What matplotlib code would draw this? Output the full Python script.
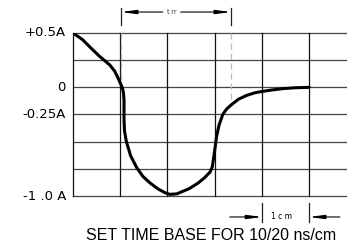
import matplotlib
matplotlib.use('Agg')
import matplotlib.pyplot as plt

# recovery current waveform, x in divisions (cm), y in amps
t_div = [0.0, 0.2, 0.36, 0.55, 0.7, 0.78, 0.88, 0.96, 1.01, 1.05, 1.07, 1.08,
         1.08, 1.09, 1.13, 1.22, 1.35, 1.48, 1.63, 1.8, 1.95, 2.05, 2.2,
         2.47, 2.65, 2.79, 2.9, 2.95, 2.99, 3.04, 3.09, 3.17, 3.25, 3.34,
         3.5, 3.67, 3.85, 4.0, 4.2, 4.44, 4.7, 5.0]
i_amp = [0.5, 0.44, 0.37, 0.29, 0.235, 0.205, 0.15, 0.08, 0.03, -0.01, -0.06, -0.12,
         -0.3, -0.4, -0.5, -0.63, -0.74, -0.82, -0.88, -0.935, -0.97, -0.985, -0.98,
         -0.93, -0.88, -0.83, -0.78, -0.73, -0.61, -0.45, -0.35, -0.25, -0.2, -0.165,
         -0.11, -0.075, -0.05, -0.038, -0.025, -0.012, -0.004, 0.0]

y_ticks = [0.5, 0.0, -0.25, -1.0]
y_labels = ['+0.5A', '0', '-0.25A', '-1 .0 A']
trr_marks = [1.02, 3.34]
cm_marks = [4.0, 5.0]

W, H = 347, 247
fig = plt.figure(figsize=(W / 100, H / 100), dpi=100)
ax = fig.add_axes([73 / W, 1 - 196 / H, 274 / W, 163 / H])
ax.set_xlim(0, 5.8)
ax.set_ylim(-1.0, 0.5)
ax.axis('off')

# grid
for k in range(7):
    ax.axhline(0.5 - 0.25 * k, color='#444444', lw=0.9, zorder=1, clip_on=False)
for k in range(6):
    ax.axvline(k, color='#111111', lw=0.9, zorder=1, clip_on=False)

# waveform
ax.plot(t_div, i_amp, color='black', lw=2.2, solid_capstyle='round', zorder=4)

# y labels
for v, lab in zip(y_ticks, y_labels):
    ax.text(-0.15, v, lab, ha='right', va='center', fontsize=9.5, clip_on=False)

# trr markers
ax.plot([trr_marks[0]] * 2, [0.5, 0.0], color='#bbbbbb', lw=0.9, ls=(0, (5, 3)), zorder=2)
ax.plot([trr_marks[1]] * 2, [0.5, -0.17], color='#bbbbbb', lw=0.9, ls=(0, (5, 3)), zorder=2)
for xm in trr_marks:
    ax.plot([xm, xm], [0.73, 0.575], color='#222222', lw=0.9, clip_on=False)
arr = dict(arrowstyle='-|>,head_length=0.9,head_width=0.12', color='black', lw=0.8,
           shrinkA=0, shrinkB=0)
ax.annotate('', xy=(trr_marks[0], 0.693), xytext=(1.9, 0.693), arrowprops=arr,
            annotation_clip=False)
ax.annotate('', xy=(trr_marks[1], 0.693), xytext=(2.28, 0.693), arrowprops=arr,
            annotation_clip=False)
ax.text(2.09, 0.69, 't\u2009rr', ha='center', va='center', fontsize=5, color='#444444',
        clip_on=False)

# 1 cm scale
for xm in cm_marks:
    ax.plot([xm, xm], [-1.064, -1.24], color='#222222', lw=0.9, clip_on=False)
ax.annotate('', xy=(cm_marks[0], -1.193), xytext=(3.32, -1.193), arrowprops=arr,
            annotation_clip=False)
ax.annotate('', xy=(cm_marks[1], -1.193), xytext=(5.65, -1.193), arrowprops=arr,
            annotation_clip=False)
ax.text(4.42, -1.19, '1 c m', ha='center', va='center', fontsize=5.5, clip_on=False)

ax.text(2.92, -1.36, 'SET TIME BASE FOR 10/20 ns/cm', ha='center', va='center',
        fontsize=11.5, family='Liberation Sans', clip_on=False)

fig.savefig('out.png', dpi=100)
